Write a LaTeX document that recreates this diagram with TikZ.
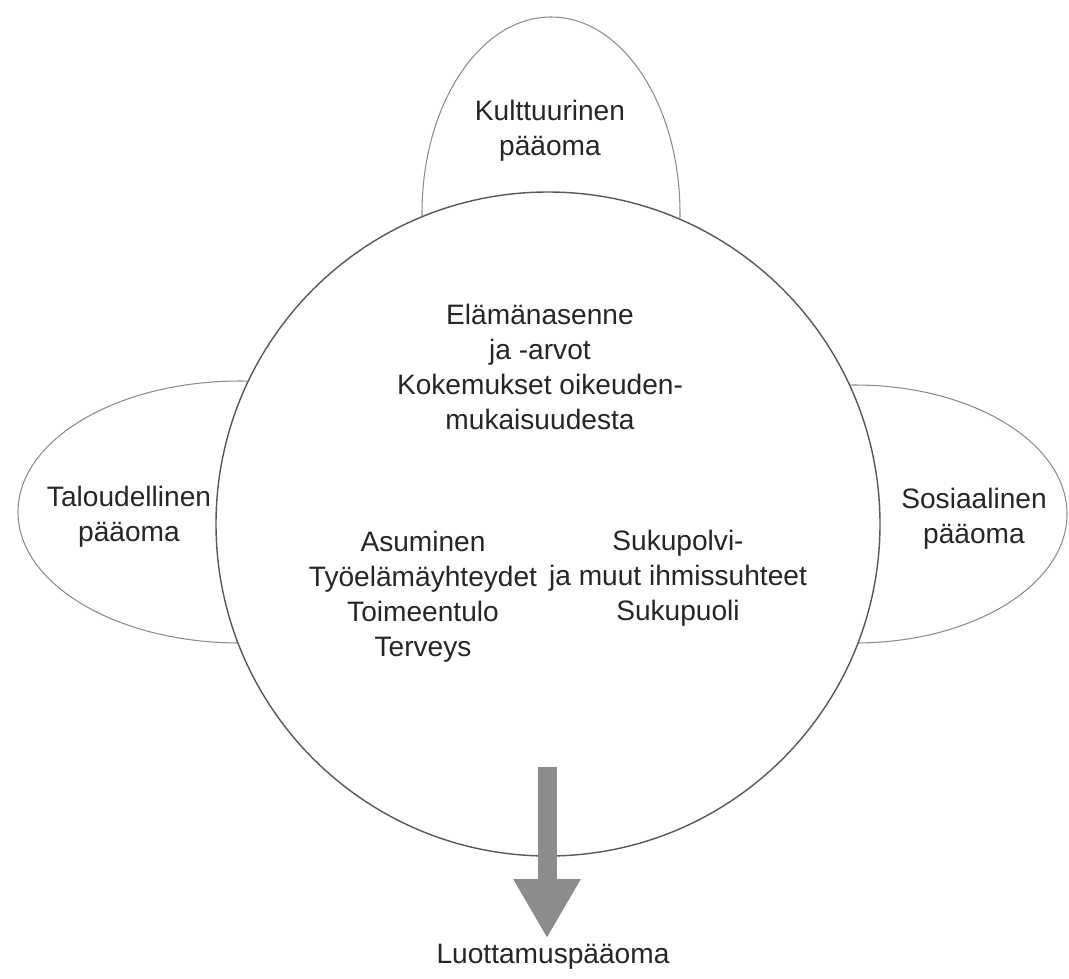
\documentclass[tikz,border=0pt]{standalone}
\usepackage{fontspec}
\setmainfont{Liberation Sans}
\usetikzlibrary{arrows.meta}

\tikzset{
    capital/.style={font=\fontsize{16}{20}\selectfont, text=black!85, align=center},
    sideoval/.style={draw=black!45, line width=0.6pt},
    bigcircle/.style={draw=black!65, line width=0.8pt, fill=white},
    bigarrow/.style={draw=black!45, line width=0.38cm,
        -{Triangle[width=1.26cm, length=1.18cm]}}
}

\begin{document}
\begin{tikzpicture}[x=0.02cm, y=-0.02cm]
        \useasboundingbox (0,0) rectangle (1069,978);

        % Side ovals (behind the main circle)
        \draw[sideoval] (551,213) ellipse [x radius=129, y radius=196];
        \draw[sideoval] (240,512) ellipse [x radius=222, y radius=131];
        \draw[sideoval] (855,514) ellipse [x radius=212, y radius=129];

        % Main circle
        \draw[bigcircle] (548,524) circle [radius=332];

        % Labels for the ovals
        \node[capital] (kult) at (550,131) {Kulttuurinen\\pääoma};
        \node[capital] (talous) at (129,517) {Taloudellinen\\pääoma};
        \node[capital] (sosiaal) at (974,519) {Sosiaalinen\\pääoma};

            % Texts inside the circle
            \node[capital] (arvot) at (540,367)
                {Elämänasenne\\ja -arvot\\Kokemukset oikeuden-\\mukaisuudesta};
            \node[capital] (arki) at (423,597)
                {Asuminen\\Työelämäyhteydet\\Toimeentulo\\Terveys};
            \node[capital] (suhteet) at (678,578)
                {Sukupolvi-\\ja muut ihmissuhteet\\Sukupuoli};

        % Result
        \node[capital] (luotto) at (553,957) {Luottamuspääoma};
        \coordinate (flowtop) at (547,767);
        \draw[bigarrow] (flowtop) -- (flowtop |- luotto.north);

    \end{tikzpicture}
\end{document}
